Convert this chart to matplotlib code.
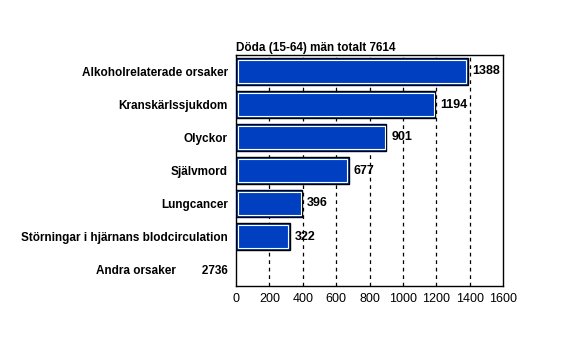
import matplotlib
matplotlib.use('Agg')
import matplotlib.pyplot as plt

plt.rcParams['font.family'] = ['Liberation Sans', 'DejaVu Sans']

# data
orsaker = ['Alkoholrelaterade orsaker',
           'Kranskärlssjukdom',
           'Olyckor',
           'Självmord',
           'Lungcancer',
           'Störningar i hjärnans blodcirculation',
           'Andra orsaker']
antal = [1388, 1194, 901, 677, 396, 322, 2736]
titel = 'Döda (15-64) män totalt 7614'
xticks = [0, 200, 400, 600, 800, 1000, 1200, 1400, 1600]

fig = plt.figure(figsize=(5.61, 3.64), dpi=100)
ax = fig.add_axes([236 / 561, 1 - 286 / 364, 267 / 561, 231 / 364])

n = len(orsaker)
ypos = list(range(n))
px = 1600 / 267  # one pixel in data units
# last category (Andra orsaker) has no bar, its value goes in the label
for i in range(n - 1):
    ax.barh(ypos[i], antal[i], height=0.82, color='#0040c0',
            edgecolor='black', linewidth=1.0, zorder=3)
    # thin white inner outline, like the original 3D-ish bars
    ax.barh(ypos[i], antal[i] - 3 * px, height=0.72, left=1.5 * px,
            color='none', edgecolor='white', linewidth=0.8, zorder=4)
    ax.text(antal[i] + 5 * px, ypos[i], str(antal[i]), va='center', ha='left',
            fontsize=9, fontweight='bold', zorder=5)

labels = orsaker[:-1] + [orsaker[-1] + '        ' + str(antal[-1])]
ax.set_yticks(ypos)
ax.set_yticklabels(labels, fontsize=8.5, fontweight='bold')
ax.tick_params(axis='y', length=0, pad=6)
ax.set_ylim(n - 0.5, -0.5)

ax.set_xlim(0, 1600)
ax.set_xticks(xticks)
ax.set_xticklabels([str(t) for t in xticks], fontsize=9)
ax.tick_params(axis='x', length=0, pad=5)
for t in xticks[1:-1]:
    ax.axvline(t, color='black', linestyle=(0, (3, 3)), linewidth=0.9, zorder=1)

for s in ax.spines.values():
    s.set_color('black')
    s.set_linewidth(1.0)

ax.set_title(titel, loc='left', fontsize=8.5, fontweight='bold', pad=3)

fig.savefig('out.png', dpi=100)
